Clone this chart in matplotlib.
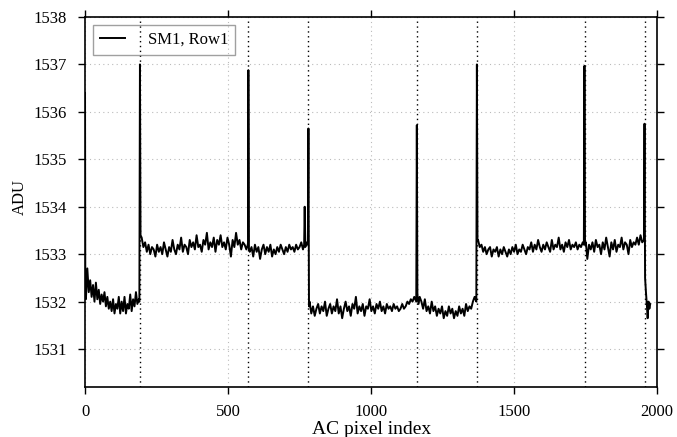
import numpy as np
import matplotlib.pyplot as plt

plt.rcParams['font.family'] = ['Liberation Serif', 'DejaVu Serif']

# flat noisy stretches: (first index, step, values)
seg_a = (3, 5, [1532.05, 1532.7, 1532.2, 1532.45, 1532.1, 1532.35, 1532.0, 1532.4, 1532.05, 1532.25,
                1531.95, 1532.15, 1532.0, 1532.2, 1531.9, 1532.1, 1531.85, 1532.0, 1531.8, 1532.05,
                1531.75, 1531.95, 1531.85, 1532.1, 1531.75, 1532.0, 1531.8, 1532.1, 1531.75, 1531.95,
                1531.85, 1532.15, 1531.8, 1532.05, 1531.9, 1532.2, 1531.95, 1532.05])
seg_b = (198, 6, [1533.35, 1533.15, 1533.25, 1533.05, 1533.2, 1533.0, 1533.15, 1533.1, 1532.95, 1533.2,
                  1533.05, 1533.15, 1533.0, 1533.25, 1533.1, 1532.95, 1533.15, 1533.05, 1533.3, 1533.1,
                  1533.0, 1533.2, 1533.1, 1533.35, 1533.05, 1533.2, 1533.15, 1533.0, 1533.3, 1533.15,
                  1533.25, 1533.1, 1533.4, 1533.15, 1533.2, 1533.05, 1533.3, 1533.2, 1533.45, 1533.1,
                  1533.25, 1533.15, 1533.35, 1533.05, 1533.3, 1533.2, 1533.4, 1533.15, 1533.25, 1533.1,
                  1533.35, 1533.2, 1532.95, 1533.3, 1533.15, 1533.45, 1533.2, 1533.3, 1533.1, 1533.25,
                  1533.2, 1533.1, 1533.25, 1533.05, 1533.15, 1532.95, 1533.2, 1533.05, 1533.15, 1532.9,
                  1533.1, 1533.2, 1533.0, 1533.15, 1533.05, 1533.2, 1532.95, 1533.1, 1533.0, 1533.15,
                  1533.05, 1533.2, 1533.1, 1533.0, 1533.15, 1533.05, 1533.2, 1533.1, 1533.15, 1533.05,
                  1533.2, 1533.1, 1533.15, 1533.25, 1533.1])
seg_c = (785, 6, [1532.0, 1531.75, 1531.9, 1531.7, 1531.85, 1531.95, 1531.75, 1531.9, 1531.8, 1532.0,
                  1531.7, 1531.85, 1531.95, 1531.75, 1531.9, 1531.8, 1532.05, 1531.75, 1531.9, 1531.65,
                  1531.85, 1532.0, 1531.8, 1531.9, 1531.7, 1531.95, 1531.85, 1532.1, 1531.75, 1531.9,
                  1531.8, 1531.95, 1531.7, 1531.9, 1531.85, 1532.05, 1531.8, 1531.9, 1531.75, 1531.95,
                  1531.85, 1532.0, 1531.8, 1531.9, 1531.75, 1531.95, 1531.85, 1531.9, 1531.8, 1531.95,
                  1531.85, 1531.9, 1531.8, 1531.85, 1531.95, 1531.85, 1531.9, 1532.0, 1531.95, 1532.05,
                  1532.0, 1532.1])
seg_d = (1176, 6, [1532.0, 1531.85, 1532.05, 1531.8, 1531.9, 1531.75, 1532.0, 1531.8, 1531.9, 1531.7,
                   1531.85, 1531.75, 1531.9, 1531.65, 1531.8, 1531.7, 1531.9, 1531.75, 1531.85, 1531.65,
                   1531.8, 1531.7, 1531.9, 1531.75, 1531.85, 1531.7, 1531.95, 1531.8, 1531.9, 1531.85,
                   1532.0, 1532.1])
seg_e = (1374, 6, [1533.3, 1533.15, 1533.2, 1533.05, 1533.15, 1533.0, 1533.1, 1533.15, 1532.95, 1533.1,
                   1533.05, 1533.15, 1532.95, 1533.1, 1533.0, 1533.15, 1533.05, 1532.95, 1533.1, 1533.0,
                   1533.15, 1533.05, 1533.2, 1533.0, 1533.1, 1533.05, 1533.2, 1533.1, 1533.0, 1533.15,
                   1533.1, 1533.25, 1533.05, 1533.2, 1533.1, 1533.3, 1533.15, 1533.05, 1533.2, 1533.1,
                   1533.25, 1533.15, 1533.05, 1533.3, 1533.1, 1533.2, 1533.15, 1533.35, 1533.1, 1533.2,
                   1533.05, 1533.25, 1533.15, 1533.3, 1533.1, 1533.2, 1533.15, 1533.25, 1533.1, 1533.2,
                   1533.15, 1533.25])
seg_f = (1756, 6, [1532.9, 1533.2, 1533.1, 1533.25, 1533.05, 1533.3, 1533.15, 1533.2, 1533.0, 1533.25,
                   1533.1, 1533.35, 1533.15, 1532.95, 1533.25, 1533.1, 1533.3, 1533.05, 1533.2, 1533.15,
                   1533.35, 1533.1, 1533.25, 1533.2, 1533.0, 1533.3, 1533.15, 1533.25, 1533.2, 1533.35,
                   1533.2, 1533.4, 1533.25])

# spikes and single points between stretches
spike_x = [0, 1, 190, 192, 194, 569, 571, 573, 766, 768, 770, 776, 779, 781, 783,
           1158, 1160, 1162, 1166, 1170, 1368, 1370, 1372, 1744, 1746, 1748, 1751,
           1954, 1956, 1958, 1961, 1964, 1967, 1970, 1973, 1976]
spike_y = [1536.4, 1532.1, 1532.0, 1537.0, 1533.4, 1533.2, 1536.88, 1533.1, 1533.2, 1534.0,
           1533.15, 1533.25, 1533.2, 1535.65, 1531.9, 1532.0, 1535.72, 1532.15, 1531.95, 1532.1,
           1532.0, 1537.0, 1533.3, 1533.2, 1536.97, 1533.2, 1533.25, 1533.3, 1535.75, 1532.5,
           1532.2, 1531.95, 1531.65, 1532.0, 1531.85, 1531.95]

# segment boundaries (dotted lines)
boundaries = [192, 571, 781, 1160, 1370, 1748, 1957]

xs = list(spike_x)
ys = list(spike_y)
for start, step, vals in [seg_a, seg_b, seg_c, seg_d, seg_e, seg_f]:
    xs += list(start + step * np.arange(len(vals)))
    ys += vals
xs = np.array(xs, dtype=float)
ys = np.array(ys)
order = np.argsort(xs, kind='stable')
xs = xs[order]
ys = ys[order]

fig = plt.figure(figsize=(6.77, 4.37), dpi=100)
ax = fig.add_axes([0.1256, 0.1144, 0.8450, 0.8467])

ax.grid(True, color='#bbbbbb', linestyle=(0, (1, 3)), linewidth=0.8)
for b in boundaries:
    ax.axvline(b, color='black', linestyle=(0, (1, 2.5)), linewidth=1.0, zorder=2)

ax.plot(xs, ys, color='black', linewidth=1.4, label='SM1, Row1', zorder=3)

ax.set_xlim(0, 2000)
ax.set_ylim(1530.2, 1538)
ax.set_xticks([0, 500, 1000, 1500, 2000])
ax.set_yticks(range(1531, 1539))
ax.tick_params(direction='out', length=5, width=1, top=True, right=True, labelsize=12)
ax.tick_params(axis='x', pad=7)
ax.tick_params(axis='y', pad=8)
for s in ax.spines.values():
    s.set_linewidth(1.2)

ax.set_xlabel('AC pixel index', fontsize=14, labelpad=1)
ax.set_ylabel('ADU', fontsize=12)
ax.yaxis.set_label_coords(-0.10, 0.514)

leg = ax.legend(loc='upper left', fontsize=12, fancybox=False,
                edgecolor='#888888', handlelength=1.5, handletextpad=1.4, borderpad=0.4)
leg.get_frame().set_facecolor('none')
leg.get_frame().set_linewidth(1.0)

fig.savefig('out.png', dpi=100)
